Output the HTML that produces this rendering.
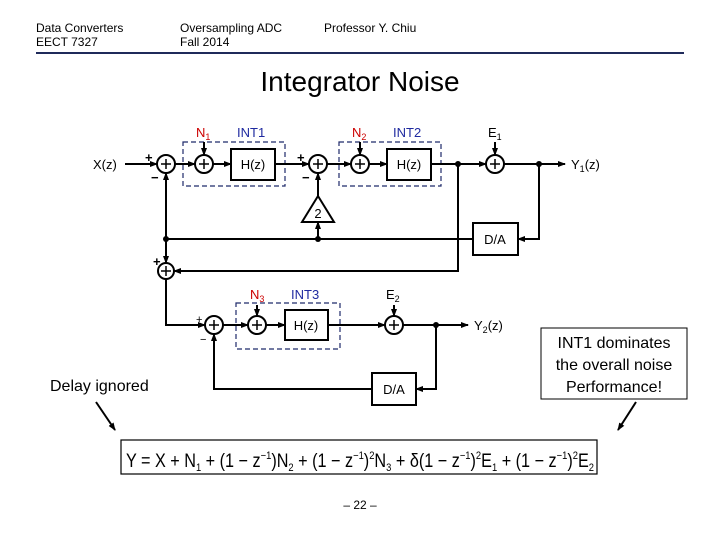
<!DOCTYPE html>
<html><head><meta charset="utf-8"><style>
body{margin:0;background:#fff}
svg{display:block;font-family:"Liberation Sans",Arial,sans-serif}
</style></head><body>
<svg width="720" height="540" viewBox="0 0 720 540" xmlns="http://www.w3.org/2000/svg">
<defs><marker id="a" markerWidth="8" markerHeight="8" refX="7" refY="4" orient="auto" markerUnits="userSpaceOnUse"><path d="M0,1 L8,4 L0,7z" fill="#000"/></marker></defs>
<g font-size="12"><text x="36" y="32">Data Converters</text><text x="36" y="46">EECT 7327</text>
<text x="180" y="32">Oversampling ADC</text><text x="180" y="46">Fall 2014</text>
<text x="324" y="32">Professor Y. Chiu</text></g>
<line x1="36" y1="53" x2="684" y2="53" stroke="#1f2a5a" stroke-width="2"/>
<text x="360" y="91" font-size="28" text-anchor="middle">Integrator Noise</text>
<g stroke="#000" stroke-width="2" fill="none">
<circle cx="166" cy="164" r="9"/><circle cx="204" cy="164" r="9"/><circle cx="318" cy="164" r="9"/><circle cx="360" cy="164" r="9"/><circle cx="495" cy="164" r="9"/>
<circle cx="166" cy="271" r="8"/><circle cx="214" cy="325" r="9"/><circle cx="257" cy="325" r="9"/><circle cx="394" cy="325" r="9"/>
<path d="M161,164h10M166,159v10M199,164h10M204,159v10M313,164h10M318,159v10M355,164h10M360,159v10M490,164h10M495,159v10M161,271h10M166,266v10M209,325h10M214,320v10M252,325h10M257,320v10M389,325h10M394,320v10" stroke-width="1.5"/>
<rect x="231" y="149" width="44" height="31"/><rect x="387" y="149" width="44" height="31"/><rect x="285" y="310" width="43" height="30"/>
<rect x="473" y="223" width="45" height="32"/><rect x="372" y="373" width="44" height="32"/>
<path d="M302,222 L318,196 L334,222z"/>
</g>
<g stroke="#1f2a6a" stroke-width="1.2" stroke-dasharray="5,3" fill="none">
<rect x="183" y="142" width="102" height="44"/><rect x="339" y="142" width="102" height="44"/><rect x="236" y="303" width="104" height="46"/>
</g>
<g stroke="#000" stroke-width="2" fill="none" marker-end="url(#a)">
<path d="M125,164H157"/><path d="M175,164H195"/><path d="M213,164H231"/><path d="M275,164H309"/><path d="M327,164H351"/><path d="M369,164H387"/>
<path d="M431,164H486"/><path d="M504,164H565"/>
<path d="M539,164V239H518"/>
<path d="M473,239H166V173"/>
<path d="M318,239V222"/><path d="M318,196V173"/>
<path d="M166,239V263"/>
<path d="M458,164V271H174"/>
<path d="M166,279V325H205"/>
<path d="M223,325H248"/><path d="M266,325H285"/><path d="M328,325H385"/><path d="M403,325H468"/>
<path d="M436,325V389H416"/>
<path d="M372,389H214V334"/>
<path d="M204,142V155"/><path d="M360,142V155"/><path d="M495,142V155"/><path d="M257,305V316"/><path d="M394,305V316"/>
</g>
<g fill="#000"><circle cx="458" cy="164" r="3"/><circle cx="539" cy="164" r="3"/><circle cx="166" cy="239" r="3"/><circle cx="318" cy="239" r="3"/><circle cx="436" cy="325" r="3"/></g>
<g font-size="13">
<text x="93" y="169">X(z)</text><text x="145" y="162" font-weight="bold">+</text><text x="151" y="182" font-weight="bold">−</text>
<text x="297" y="162" font-weight="bold">+</text><text x="302" y="182" font-weight="bold">−</text>
<text x="153" y="266" font-weight="bold">+</text>
<text x="196" y="323" font-size="11">+</text><text x="200" y="343" font-size="11">−</text>
<text x="253" y="169" text-anchor="middle">H(z)</text><text x="409" y="169" text-anchor="middle">H(z)</text><text x="306" y="330" text-anchor="middle">H(z)</text>
<text x="495" y="244" text-anchor="middle">D/A</text><text x="394" y="394" text-anchor="middle">D/A</text>
<text x="318" y="218" text-anchor="middle">2</text>
<text x="571" y="169">Y<tspan font-size="9" dy="3">1</tspan><tspan dy="-3">(z)</tspan></text>
<text x="474" y="330">Y<tspan font-size="9" dy="3">2</tspan><tspan dy="-3">(z)</tspan></text>
<text x="488" y="137">E<tspan font-size="9" dy="3">1</tspan></text>
<text x="386" y="299">E<tspan font-size="9" dy="3">2</tspan></text>
<text x="196" y="137" fill="#c00">N<tspan font-size="9" dy="3">1</tspan></text>
<text x="352" y="137" fill="#c00">N<tspan font-size="9" dy="3">2</tspan></text>
<text x="250" y="299" fill="#c00">N<tspan font-size="9" dy="3">3</tspan></text>
<text x="237" y="137" fill="#1f2aa0">INT1</text><text x="393" y="137" fill="#1f2aa0">INT2</text><text x="291" y="299" fill="#1f2aa0">INT3</text>
</g>
<text x="50" y="391" font-size="16">Delay ignored</text>
<rect x="541" y="328" width="146" height="71" fill="none" stroke="#000" stroke-width="1"/>
<g font-size="16" text-anchor="middle"><text x="614" y="348">INT1 dominates</text><text x="614" y="370">the overall noise</text><text x="614" y="392">Performance!</text></g>
<g stroke="#000" stroke-width="2" marker-end="url(#a)"><path d="M96,402L115,430"/><path d="M636,402L618,430"/></g>
<rect x="121" y="440" width="476" height="34" fill="none" stroke="#000" stroke-width="1.2"/>
<text x="126" y="467" font-size="19" textLength="468" lengthAdjust="spacingAndGlyphs">Y = X + N<tspan font-size="11" dy="4">1</tspan><tspan dy="-4"> + (1 − z</tspan><tspan font-size="11" dy="-8">−1</tspan><tspan dy="8">)N</tspan><tspan font-size="11" dy="4">2</tspan><tspan dy="-4"> + (1 − z</tspan><tspan font-size="11" dy="-8">−1</tspan><tspan dy="8">)</tspan><tspan font-size="11" dy="-8">2</tspan><tspan dy="8">N</tspan><tspan font-size="11" dy="4">3</tspan><tspan dy="-4"> + δ(1 − z</tspan><tspan font-size="11" dy="-8">−1</tspan><tspan dy="8">)</tspan><tspan font-size="11" dy="-8">2</tspan><tspan dy="8">E</tspan><tspan font-size="11" dy="4">1</tspan><tspan dy="-4"> + (1 − z</tspan><tspan font-size="11" dy="-8">−1</tspan><tspan dy="8">)</tspan><tspan font-size="11" dy="-8">2</tspan><tspan dy="8">E</tspan><tspan font-size="11" dy="4">2</tspan></text>
<text x="360" y="509" font-size="12" text-anchor="middle">– 22 –</text>
</svg>
</body></html>
